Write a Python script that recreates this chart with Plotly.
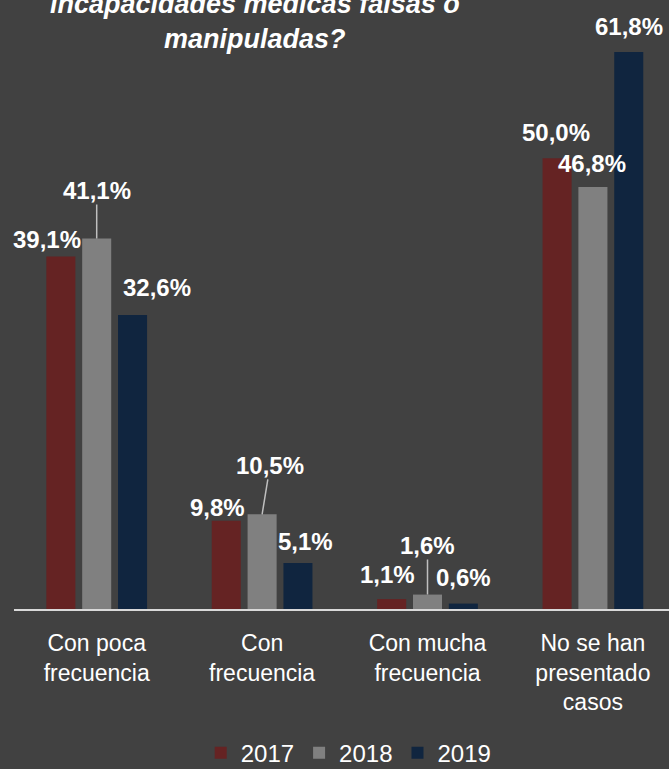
import plotly.graph_objects as go

categories = ["Con poca<br>frecuencia", "Con<br>frecuencia", "Con mucha<br>frecuencia", "No se han<br>presentado<br>casos"]
years = ["2017", "2018", "2019"]
values_2017 = [39.1, 9.8, 1.1, 50.0]
values_2018 = [41.1, 10.5, 1.6, 46.8]
values_2019 = [32.6, 5.1, 0.6, 61.8]
series = [values_2017, values_2018, values_2019]

colors = ["#652323", "#808080", "#10253F"]
FONT = "Liberation Sans, Arial, sans-serif"

fig = go.Figure()
for yr, vals, col in zip(years, series, colors):
    fig.add_trace(go.Bar(
        x=categories, y=vals, name=yr,
        marker=dict(color=col, line=dict(width=0)),
    ))

def fmt(v):
    return f"{v:.1f}%".replace(".", ",")

# label pixel offsets relative to each bar top (style, not data)
label_offsets = {
    0: [(-50, 17.5), (None, None), (60, 27.5)],
    1: [(-45, 13.5), (None, None), (43, 21.5)],
    2: [(-40, 24.5), (None, None), (36, 26.5)],
    3: [(-37, 25.5), (-1, 23.5), (36, 25.5)],
}
leader = {0: (0, -48), 1: (8, -49), 2: (0, -49)}

for ci, cat in enumerate(categories):
    for si in range(3):
        v = series[si][ci]
        dx, dy = label_offsets[ci][si]
        if dx is None:
            ax, ay = leader[ci]
            fig.add_annotation(x=cat, y=v, text=f"<b>{fmt(v)}</b>",
                               showarrow=True, arrowhead=0, arrowwidth=1.5,
                               arrowcolor="#BFBFBF", ax=ax, ay=ay,
                               standoff=0, borderpad=0,
                               font=dict(family=FONT, size=24, color="white"))
        else:
            fig.add_annotation(x=cat, y=v, text=f"<b>{fmt(v)}</b>",
                               showarrow=False, xshift=dx, yshift=dy,
                               yanchor="middle",
                               font=dict(family=FONT, size=24, color="white"))

fig.add_annotation(xref="paper", yref="paper", x=0.3676, y=0.972,
                   xanchor="center", yanchor="middle", showarrow=False,
                   text="<b><i>incapacidades médicas falsas o<br>manipuladas?</i></b>",
                   font=dict(family=FONT, size=27, color="white"))

fig.update_layout(
    width=669, height=769,
    paper_bgcolor="#414141", plot_bgcolor="#414141",
    margin=dict(l=14, r=0, t=5, b=160, autoexpand=False),
    barmode="group", bargap=0.35, bargroupgap=0.19,
    showlegend=True,
    legend=dict(orientation="h", x=0.511, xanchor="center", y=-0.276, yanchor="bottom",
                font=dict(family=FONT, size=24, color="white"),
                itemwidth=30, traceorder="normal", bgcolor="rgba(0,0,0,0)",
                borderwidth=0),
    xaxis=dict(range=[-0.5, 3.46], showline=True, linecolor="#D9D9D9", linewidth=2,
               showgrid=False, ticks="", ticklabelstandoff=12, automargin=False,
               tickfont=dict(family=FONT, size=23, color="white")),
    yaxis=dict(range=[0, 67], visible=False, showgrid=False, zeroline=False, automargin=False),
)

fig.write_html("out.html")
